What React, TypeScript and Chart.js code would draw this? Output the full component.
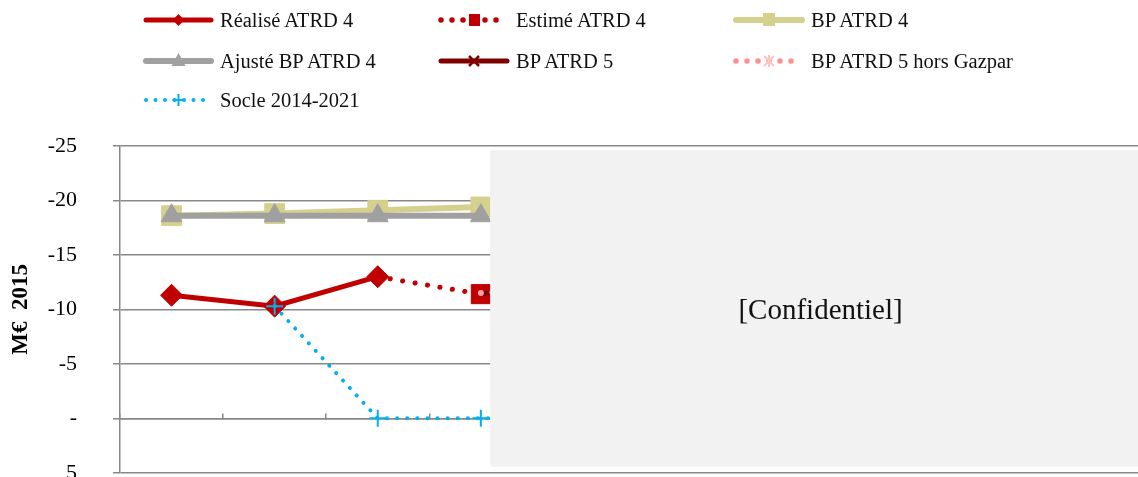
import React, { useEffect, useRef } from 'react';
import { Chart, registerables } from 'chart.js';

Chart.register(...registerables);

const FONT = "'Liberation Serif', 'Times New Roman', serif";

// ---- data ----
const categories = ['2013', '2014', '2015', '2016', '2017', '2018', '2019', '2020', '2021', '2022'];
const realiseAtrd4 = [-11.3, -10.3, -13.0, null, null, null, null, null, null, null];
const estimeAtrd4 = [null, null, -13.0, -11.4, null, null, null, null, null, null];
const bpAtrd4 = [-18.6, -18.8, -19.1, -19.4, null, null, null, null, null, null];
const ajusteBpAtrd4 = [-18.6, -18.6, -18.6, -18.6, null, null, null, null, null, null];
const bpAtrd5 = [null, null, null, -11.4, -13.0, null, null, null, null, null];
const bpAtrd5HorsGazpar = [null, null, null, -11.5, -12.2, null, null, null, null, null];
const socle20142021 = [null, -10.3, 0, 0, 0, 0, 0, 0, 0, null];
const yTicks = [-25, -20, -15, -10, -5, 0, 5];

const C_REAL = '#C00000';
const C_BP4 = '#D6D08E';
const C_AJ = '#A0A0A0';
const C_BP5 = '#7F0000';
const C_HG = '#FF8F8F';
const C_SOCLE = '#00B0F0';

type LegendItem = { label: string; kind: string; col: number; row: number };
const legendItems: LegendItem[] = [
  { label: 'Réalisé ATRD 4', kind: 'realise', col: 0, row: 0 },
  { label: 'Estimé ATRD 4', kind: 'estime', col: 1, row: 0 },
  { label: 'BP ATRD 4', kind: 'bp4', col: 2, row: 0 },
  { label: 'Ajusté BP ATRD 4', kind: 'ajuste', col: 0, row: 1 },
  { label: 'BP ATRD 5', kind: 'bp5', col: 1, row: 1 },
  { label: 'BP ATRD 5 hors Gazpar', kind: 'hg', col: 2, row: 1 },
  { label: 'Socle 2014-2021', kind: 'socle', col: 0, row: 2 },
];
const legendCols = [
  { s: 143, t: 220 },
  { s: 438, t: 516 },
  { s: 733, t: 811 },
];
const legendRows = [20, 61, 100];

function Sample({ kind, w }: { kind: string; w: number }) {
  const cy = 12;
  const cx = w / 2;
  let content: React.ReactNode = null;
  if (kind === 'realise') {
    content = (
      <>
        <line x1={3} x2={w - 3} y1={cy} y2={cy} stroke={C_REAL} strokeWidth={5} strokeLinecap="round" />
        <polygon points={`${cx - 6},${cy} ${cx},${cy - 6} ${cx + 6},${cy} ${cx},${cy + 6}`} fill={C_REAL} />
      </>
    );
  } else if (kind === 'estime') {
    content = (
      <>
        <line x1={3} x2={w - 3} y1={cy} y2={cy} stroke={C_REAL} strokeWidth={5.5} strokeLinecap="round" strokeDasharray="0 11" />
        <rect x={cx - 5} y={cy - 6} width={11} height={12} fill={C_REAL} />
      </>
    );
  } else if (kind === 'bp4') {
    content = (
      <>
        <line x1={3} x2={w - 3} y1={cy} y2={cy} stroke={C_BP4} strokeWidth={6} strokeLinecap="round" />
        <rect x={cx - 6} y={cy - 7} width={12} height={13} fill={C_BP4} />
      </>
    );
  } else if (kind === 'ajuste') {
    content = (
      <>
        <line x1={3} x2={w - 3} y1={cy} y2={cy} stroke={C_AJ} strokeWidth={6} strokeLinecap="round" />
        <polygon points={`${cx},${cy - 8} ${cx + 7},${cy + 5} ${cx - 7},${cy + 5}`} fill={C_AJ} />
      </>
    );
  } else if (kind === 'bp5') {
    content = (
      <>
        <line x1={3} x2={w - 3} y1={cy} y2={cy} stroke={C_BP5} strokeWidth={5} strokeLinecap="round" />
        <line x1={cx - 5} y1={cy - 5} x2={cx + 5} y2={cy + 5} stroke={C_BP5} strokeWidth={2.5} />
        <line x1={cx - 5} y1={cy + 5} x2={cx + 5} y2={cy - 5} stroke={C_BP5} strokeWidth={2.5} />
      </>
    );
  } else if (kind === 'hg') {
    content = (
      <>
        <line x1={3} x2={w - 3} y1={cy} y2={cy} stroke={C_HG} strokeWidth={5.5} strokeLinecap="round" strokeDasharray="0 11" />
        <line x1={cx - 5} y1={cy - 5} x2={cx + 5} y2={cy + 5} stroke="#FBC4C4" strokeWidth={2} />
        <line x1={cx - 5} y1={cy + 5} x2={cx + 5} y2={cy - 5} stroke="#FBC4C4" strokeWidth={2} />
        <line x1={cx} y1={cy - 6} x2={cx} y2={cy + 6} stroke="#FBC4C4" strokeWidth={2} />
      </>
    );
  } else if (kind === 'socle') {
    content = (
      <>
        <line x1={3} x2={w - 3} y1={cy} y2={cy} stroke={C_SOCLE} strokeWidth={4} strokeLinecap="round" strokeDasharray="0 9.5" />
        <line x1={cx - 6} y1={cy} x2={cx + 6} y2={cy} stroke={C_SOCLE} strokeWidth={2} />
        <line x1={cx} y1={cy - 6} x2={cx} y2={cy + 6} stroke={C_SOCLE} strokeWidth={2} />
      </>
    );
  }
  return (
    <svg width={w} height={24} style={{ position: 'absolute', left: 0, top: 0 }}>
      {content}
    </svg>
  );
}

const maskPlugin = {
  id: 'confidentialMask',
  afterDraw(chart: any) {
    const ctx = chart.ctx;
    const xs = chart.scales.x;
    const ca = chart.chartArea;
    const step = xs.getPixelForValue(1) - xs.getPixelForValue(0);
    const left = xs.getPixelForValue(3) + step * 0.09;
    const right = ca.right;
    const top = ca.top + 4;
    const bottom = ca.bottom - 6;
    ctx.save();
    ctx.fillStyle = '#F2F2F2';
    ctx.beginPath();
    const r = 3;
    ctx.moveTo(left + r, top);
    ctx.lineTo(right - r, top);
    ctx.quadraticCurveTo(right, top, right, top + r);
    ctx.lineTo(right, bottom - r);
    ctx.quadraticCurveTo(right, bottom, right - r, bottom);
    ctx.lineTo(left + r, bottom);
    ctx.quadraticCurveTo(left, bottom, left, bottom - r);
    ctx.lineTo(left, top + r);
    ctx.quadraticCurveTo(left, top, left + r, top);
    ctx.closePath();
    ctx.fill();
    ctx.fillStyle = '#111111';
    ctx.font = `29px ${FONT}`;
    ctx.textAlign = 'center';
    ctx.textBaseline = 'middle';
    ctx.fillText('[Confidentiel]', (left + right) / 2, (top + bottom) / 2 + 3);
    ctx.restore();
  },
};

export default function App() {
  const canvasRef = useRef<HTMLCanvasElement | null>(null);

  useEffect(() => {
    const canvas = canvasRef.current;
    if (!canvas) return;
    const chart = new Chart(canvas, {
      type: 'line',
      data: {
        labels: categories,
        datasets: [
          {
            label: 'Réalisé ATRD 4',
            data: realiseAtrd4,
            borderColor: C_REAL,
            backgroundColor: C_REAL,
            borderWidth: 5,
            pointStyle: 'rectRot',
            pointRadius: 11,
            pointBorderWidth: 1,
            order: 5,
          },
          {
            label: 'Estimé ATRD 4',
            data: estimeAtrd4,
            borderColor: C_REAL,
            backgroundColor: C_REAL,
            borderWidth: 5,
            borderDash: [0.1, 12.5],
            borderCapStyle: 'round',
            pointStyle: 'rect',
            pointRadius: [0, 0, 0, 13.5, 0, 0, 0, 0, 0, 0],
            pointBorderWidth: 1,
            order: 4,
          },
          {
            label: 'BP ATRD 4',
            data: bpAtrd4,
            borderColor: C_BP4,
            backgroundColor: C_BP4,
            borderWidth: 6,
            pointStyle: 'rect',
            pointRadius: 14,
            pointBorderWidth: 1,
            order: 7,
          },
          {
            label: 'Ajusté BP ATRD 4',
            data: ajusteBpAtrd4,
            borderColor: C_AJ,
            backgroundColor: C_AJ,
            borderWidth: 6,
            pointStyle: 'triangle',
            pointRadius: 12,
            pointBorderWidth: 1,
            order: 6,
          },
          {
            label: 'BP ATRD 5',
            data: bpAtrd5,
            borderColor: C_BP5,
            backgroundColor: C_BP5,
            borderWidth: 5,
            pointStyle: 'crossRot',
            pointRadius: 0,
            order: 3,
          },
          {
            label: 'BP ATRD 5 hors Gazpar',
            data: bpAtrd5HorsGazpar,
            borderColor: C_HG,
            backgroundColor: '#F4A3A3',
            borderWidth: 4.5,
            borderDash: [0.1, 10.5],
            borderCapStyle: 'round',
            pointStyle: 'circle',
            pointRadius: 3,
            pointBorderWidth: 0,
            order: 2,
          },
          {
            label: 'Socle 2014-2021',
            data: socle20142021,
            borderColor: C_SOCLE,
            backgroundColor: C_SOCLE,
            borderWidth: 4,
            borderDash: [0.1, 10],
            borderCapStyle: 'round',
            pointStyle: 'cross',
            pointRadius: 8.5,
            pointBorderWidth: 2,
            pointBorderColor: C_SOCLE,
            order: 1,
          },
        ] as any,
      },
      options: {
        animation: false,
        responsive: false,
        devicePixelRatio: 1,
        layout: { padding: { top: 146, bottom: 18, left: 0, right: 7 } },
        elements: { line: { tension: 0 } },
        plugins: {
          legend: { display: false },
          tooltip: { enabled: false },
        },
        scales: {
          x: {
            position: { y: 0 } as any,
            offset: true,
            ticks: { display: false },
            grid: {
              offset: true,
              drawOnChartArea: false,
              drawTicks: true,
              tickLength: -6,
              color: '#888888',
              lineWidth: 1.5,
            },
            border: { display: true, color: '#888888', width: 1.5 },
          },
          y: {
            reverse: true,
            min: -25,
            max: 5,
            afterBuildTicks: (s: any) => {
              s.ticks = yTicks.map((v) => ({ value: v }));
            },
            afterFit: (s: any) => {
              s.width = 120;
            },
            ticks: {
              stepSize: 5,
              padding: 36,
              color: '#000000',
              font: { family: FONT, size: 22 },
              callback: (v: any) => (Number(v) === 0 ? '-' : String(v)),
            },
            grid: { color: '#888888', lineWidth: 1.5, tickLength: 7 },
            border: { color: '#888888', width: 1.5 },
            title: {
              display: true,
              text: 'M€  2015',
              color: '#000000',
              font: { family: FONT, size: 23, weight: 'bold' },
              padding: { top: 7, bottom: 0 },
            },
          },
        },
      },
      plugins: [maskPlugin],
    });
    return () => chart.destroy();
  }, []);

  return (
    <div
      style={{
        position: 'fixed',
        left: 0,
        top: 0,
        width: 1138,
        height: 477,
        overflow: 'hidden',
        background: '#ffffff',
      }}
    >
      <canvas
        ref={canvasRef}
        width={1166}
        height={522}
        style={{ position: 'absolute', left: 0, top: 0, width: 1166, height: 522 }}
      />
      {legendItems.map((it) => {
        const col = legendCols[it.col];
        const cy = legendRows[it.row];
        const w = col.t - col.s - 6;
        return (
          <div key={it.label}>
            <div style={{ position: 'absolute', left: col.s, top: cy - 12, width: w, height: 24 }}>
              <Sample kind={it.kind} w={w} />
            </div>
            <div
              style={{
                position: 'absolute',
                left: col.t,
                top: cy - 13,
                height: 26,
                lineHeight: '26px',
                fontFamily: FONT,
                fontSize: 20.5,
                color: '#111111',
                whiteSpace: 'nowrap',
              }}
            >
              {it.label}
            </div>
          </div>
        );
      })}
    </div>
  );
}
